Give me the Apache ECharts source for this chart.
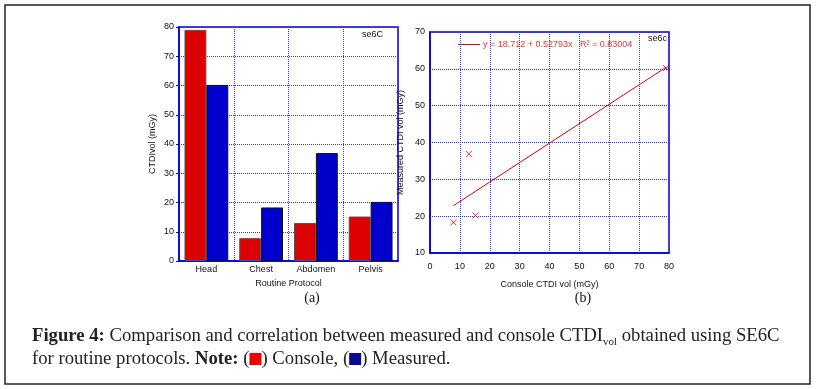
<!DOCTYPE html>
<html>
<head>
<meta charset="utf-8">
<script src="https://cdn.jsdelivr.net/npm/echarts@6/dist/echarts.min.js"></script>
<style>
  html, body { margin: 0; padding: 0; background: #fff; }
  #chart { width: 819px; height: 389px; }
</style>
</head>
<body>
<div id="chart"></div>
<script>
// ---- data
const categories = ['Head', 'Chest', 'Abdomen', 'Pelvis'];
const consoleCTDI = [79, 7.8, 13, 15.2];
const measuredCTDI = [60.2, 18.3, 36.9, 20.2];
const fitIntercept = 18.712;
const fitSlope = 0.52793;
const fitR2 = 0.83004;

// scatter pairs + fitted line between smallest and largest console value
const pairs = consoleCTDI.map(function (c, i) { return [c, measuredCTDI[i]]; });
const xMin = Math.min.apply(null, consoleCTDI);
const xMax = Math.max.apply(null, consoleCTDI);
const fitLine = [xMin, xMax].map(function (x) { return [x, fitIntercept + fitSlope * x]; });
const fitName = 'y = ' + fitIntercept + ' + ' + fitSlope + 'x   R\u00b2 = ' + fitR2;

const BLUE = '#0000cc';
const RED = '#dd0000';
const tickFont = { fontFamily: 'Liberation Sans', fontSize: 9, color: '#111' };
const gridLine = { show: true, lineStyle: { color: '#3030ff', type: 'dotted', width: 1 } };

var chart = echarts.init(document.getElementById('chart'));

option = {
    animation: false,
    backgroundColor: '#fff',
    textStyle: { fontFamily: 'Liberation Sans' },
    grid: [
        { left: 179, top: 27, width: 219, height: 234, show: true, borderColor: BLUE, borderWidth: 1.5 },
        { left: 430, top: 32, width: 239, height: 221, show: true, borderColor: BLUE, borderWidth: 1.5 }
    ],
    xAxis: [{
        gridIndex: 0,
        type: 'category',
        data: categories,
        axisLine: { lineStyle: { color: BLUE, width: 1.5 } },
        axisTick: { show: false },
        axisLabel: Object.assign({ margin: 4 }, tickFont),
        splitLine: { show: true, interval: 0, lineStyle: { color: '#3030ff', type: 'dotted', width: 1 } },
        name: 'Routine Protocol',
        nameLocation: 'middle',
        nameGap: 18,
        nameTextStyle: tickFont
    }, {
        gridIndex: 1,
        type: 'value',
        min: 0, max: 80, interval: 10,
        axisLine: { lineStyle: { color: BLUE, width: 1.5 } },
        axisTick: { show: false },
        axisLabel: Object.assign({ margin: 9 }, tickFont),
        splitLine: gridLine,
        name: 'Console CTDI vol (mGy)',
        nameLocation: 'middle',
        nameGap: 27,
        nameTextStyle: tickFont
    }],
    yAxis: [{
        gridIndex: 0,
        type: 'value',
        min: 0, max: 80, interval: 10,
        axisLine: { show: true, lineStyle: { color: BLUE, width: 1.5 } },
        axisTick: { show: true, length: 3, lineStyle: { color: BLUE } },
        axisLabel: Object.assign({ margin: 5 }, tickFont),
        splitLine: gridLine,
        name: 'CTDIvol (mGy)',
        nameLocation: 'middle',
        nameGap: 22,
        nameTextStyle: tickFont
    }, {
        gridIndex: 1,
        type: 'value',
        min: 10, max: 70, interval: 10,
        axisLine: { show: true, lineStyle: { color: BLUE, width: 1.5 } },
        axisTick: { show: false },
        axisLabel: Object.assign({ margin: 5 }, tickFont),
        splitLine: gridLine,
        name: 'Measured CTDI vol (mGy)',
        nameLocation: 'middle',
        nameGap: 25,
        nameTextStyle: tickFont
    }],
    series: [{
        name: 'Console',
        type: 'bar',
        xAxisIndex: 0, yAxisIndex: 0,
        barGap: '0%',
        barCategoryGap: '20%',
        itemStyle: { color: RED, borderColor: '#555', borderWidth: 1 },
        data: consoleCTDI
    }, {
        name: 'Measured',
        type: 'bar',
        xAxisIndex: 0, yAxisIndex: 0,
        itemStyle: { color: BLUE, borderColor: '#111', borderWidth: 1 },
        data: measuredCTDI
    }, {
        name: 'pairs',
        type: 'scatter',
        xAxisIndex: 1, yAxisIndex: 1,
        symbol: 'path://M0,0L10,10M10,0L0,10',
        symbolSize: 6,
        itemStyle: { color: 'transparent', borderColor: RED, borderWidth: 1 },
        data: pairs
    }, {
        name: fitName,
        type: 'line',
        xAxisIndex: 1, yAxisIndex: 1,
        showSymbol: false,
        lineStyle: { color: RED, width: 1 },
        itemStyle: { color: RED },
        data: fitLine
    }],
    graphic: [
        // outer frame
        { type: 'rect', shape: { x: 5, y: 5, width: 805, height: 379 },
          style: { fill: 'none', stroke: '#222', lineWidth: 1.5 } },
        // fit legend
        { type: 'line', shape: { x1: 458, y1: 44.5, x2: 480, y2: 44.5 }, style: { stroke: RED, lineWidth: 1 } },
        { type: 'text', x: 483, y: 45, style: { text: fitName, fontSize: 9, fontFamily: 'Liberation Sans', fill: '#e03838', verticalAlign: 'middle' } },
        { type: 'text', x: 383, y: 35, style: { text: 'se6C', fontSize: 9, fontFamily: 'Liberation Sans', fill: '#111', align: 'right', verticalAlign: 'middle' } },
        { type: 'text', x: 667, y: 39, style: { text: 'se6c', fontSize: 9, fontFamily: 'Liberation Sans', fill: '#111', align: 'right', verticalAlign: 'middle' } },
        { type: 'text', x: 312, y: 298, style: { text: '(a)', fontSize: 14, fontFamily: 'Liberation Serif', fill: '#111', align: 'center', verticalAlign: 'middle' } },
        { type: 'text', x: 583, y: 298, style: { text: '(b)', fontSize: 14, fontFamily: 'Liberation Serif', fill: '#111', align: 'center', verticalAlign: 'middle' } },
        // caption
        { type: 'text', x: 32, y: 336, style: {
            text: '{b|Figure 4:} Comparison and correlation between measured and console CTDI{sub|vol} obtained using SE6C',
            fontSize: 18.7, fontFamily: 'Liberation Serif', fill: '#222', verticalAlign: 'middle',
            rich: {
                b: { fontWeight: 'bold', fontSize: 18.7, fontFamily: 'Liberation Serif', fill: '#222' },
                sub: { fontSize: 11, fontFamily: 'Liberation Serif', fill: '#222', verticalAlign: 'bottom', padding: [12, 0, 0, 0] }
            }
        } },
        { type: 'text', x: 32, y: 359, style: {
            text: 'for routine protocols. {b|Note:} ({red| }) Console, ({blue| }) Measured.',
            fontSize: 18.7, fontFamily: 'Liberation Serif', fill: '#222', verticalAlign: 'middle',
            rich: {
                b: { fontWeight: 'bold', fontSize: 18.7, fontFamily: 'Liberation Serif', fill: '#222' },
                red: { backgroundColor: '#ee0000', width: 12, height: 12 },
                blue: { backgroundColor: '#0a0a90', width: 12, height: 12 }
            }
        } }
    ]
};
chart.setOption(option);
</script>
</body>
</html>
